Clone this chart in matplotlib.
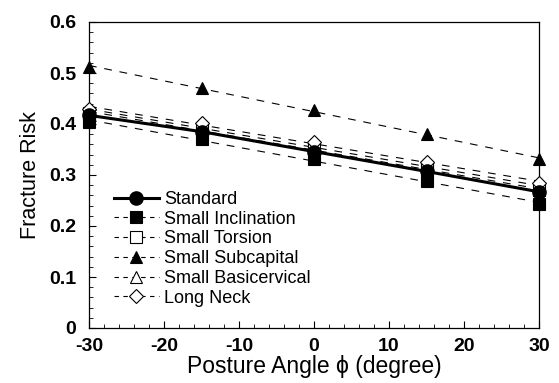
import numpy as np
import matplotlib.pyplot as plt
from matplotlib.ticker import MultipleLocator

angle = [-30, -15, 0, 15, 30]
standard = [0.417, 0.385, 0.346, 0.307, 0.267]
small_inclination = [0.404, 0.370, 0.331, 0.288, 0.243]
small_torsion = [0.421, 0.390, 0.351, 0.311, 0.271]
small_subcapital = [0.512, 0.471, 0.427, 0.380, 0.331]
small_basicervical = [0.425, 0.395, 0.357, 0.318, 0.276]
long_neck = [0.430, 0.401, 0.365, 0.326, 0.284]

plt.rcParams['font.family'] = ['Liberation Sans', 'DejaVu Sans']
plt.rcParams['axes.unicode_minus'] = False

fig = plt.figure(figsize=(5.59, 3.83), dpi=100)
ax = fig.add_axes([89 / 559, 1 - 328 / 383, 450 / 559, 306 / 383])

x = np.array(angle)
xfit = np.array([-30, 30])

series = [
    ("Standard", standard, 'o', 'k', '-', 2.2),
    ("Small Inclination", small_inclination, 's', 'k', '--', 0.8),
    ("Small Torsion", small_torsion, 's', 'w', '--', 0.8),
    ("Small Subcapital", small_subcapital, '^', 'k', '--', 0.8),
    ("Small Basicervical", small_basicervical, '^', 'w', '--', 0.8),
    ("Long Neck", long_neck, 'D', 'w', '--', 0.8),
]

for name, vals, mk, fc, ls, lw in series:
    ms = 7 if mk == 'D' else 9
    if ls == '-':
        ax.plot(x, vals, color='k', lw=lw, marker=mk, ms=9.5, mfc=fc, mec='k',
                label=name, zorder=4, clip_on=False)
    else:
        # dashed trend line fitted through the markers
        p = np.polyfit(x, vals, 1)
        ax.plot(xfit, np.polyval(p, xfit), color='k', lw=lw, dashes=(7, 7), zorder=2)
        ax.plot(x, vals, ls='none', marker=mk, ms=ms, mfc=fc, mec='k', mew=0.8,
                zorder=3, clip_on=False)
        ax.plot([], [], color='k', lw=lw, dashes=(4, 4), marker=mk, ms=ms,
                mfc=fc, mec='k', mew=0.8, label=name)

ax.set_xlim(-30, 30)
ax.set_ylim(0, 0.6)
ax.xaxis.set_major_locator(MultipleLocator(10))
ax.xaxis.set_minor_locator(MultipleLocator(2))
ax.yaxis.set_minor_locator(MultipleLocator(0.02))
ax.set_yticks([0, 0.1, 0.2, 0.3, 0.4, 0.5, 0.6])
ax.set_yticklabels(['0', '0.1', '0.2', '0.3', '0.4', '0.5', '0.6'])
ax.tick_params(which='both', direction='in', top=False, right=False, labelsize=14)
ax.tick_params(which='major', length=5)
ax.tick_params(which='minor', length=3)
ax.tick_params(axis='y', pad=9)
ax.tick_params(axis='x', pad=7)
for lab in ax.get_xticklabels() + ax.get_yticklabels():
    lab.set_fontweight('bold')
for s in ax.spines.values():
    s.set_linewidth(0.9)

ax.set_xlabel("Posture Angle \u03d5 (degree)", fontsize=16.5, labelpad=0)
ax.set_ylabel("Fracture Risk", fontsize=15.5, labelpad=6)

ax.legend(loc='lower left', bbox_to_anchor=(0.055, 0.07), frameon=False, fontsize=13,
          handlelength=2.5, handletextpad=0.3, labelspacing=0.15, borderpad=0,
          borderaxespad=0)

plt.savefig("out.png", dpi=100)
